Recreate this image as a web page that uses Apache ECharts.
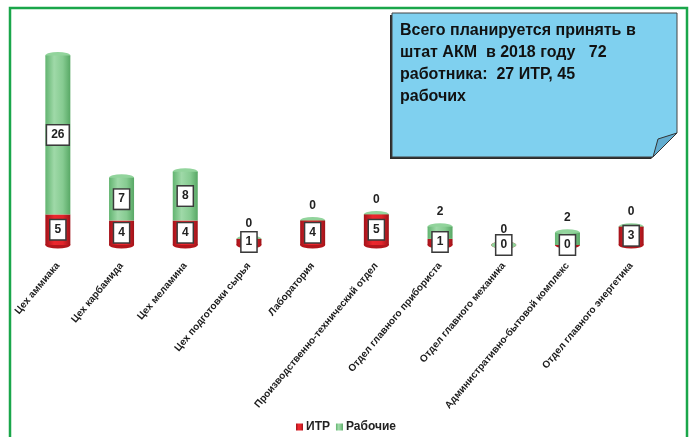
<!DOCTYPE html>
<html>
<head>
<meta charset="utf-8">
<script src="https://cdn.jsdelivr.net/npm/echarts@6/dist/echarts.min.js"></script>
<style>
  html, body { margin: 0; padding: 0; background: #fff; }
  #chart { width: 695px; height: 437px; }
</style>
</head>
<body>
<div id="chart"></div>
<script>
const categories = [
  "Цех аммиака",
  "Цех карбамида",
  "Цех меламина",
  "Цех подготовки сырья",
  "Лаборатория",
  "Производственно-технический отдел",
  "Отдел главного прибориста",
  "Отдел главного механика",
  "Административно-бытовой комплекс",
  "Отдел главного энергетика"
];
const itr = [5, 4, 4, 1, 4, 5, 1, 0, 0, 3];
const workers = [26, 7, 8, 0, 0, 0, 2, 0, 2, 0];
const totals = itr.map((v, i) => v + workers[i]);
const noteLines = [
  "Всего планируется принять в",
  "штат АКМ  в 2018 году   72",
  "работника:  27 ИТР, 45",
  "рабочих"
];

const boxLabel = {
  show: true,
  position: "inside",
  color: "#222",
  fontFamily: "Liberation Sans",
  fontWeight: "bold",
  fontSize: 12,
  backgroundColor: "#fff",
  borderColor: "#3a3a3a",
  borderWidth: 1.5,
  padding: [4, 4, 3, 4]
};
const plainTop = {
  show: true,
  position: "top",
  distance: 9,
  color: "#222",
  fontFamily: "Liberation Sans",
  fontWeight: "bold",
  fontSize: 12,
  backgroundColor: "transparent",
  borderWidth: 0,
  padding: 0
};

const redFill = new echarts.graphic.LinearGradient(0, 0, 1, 0, [
  { offset: 0, color: "#a3121a" },
  { offset: 0.35, color: "#ec272d" },
  { offset: 0.7, color: "#e3242b" },
  { offset: 1, color: "#9e1319" }
]);
const greenFill = new echarts.graphic.LinearGradient(0, 0, 1, 0, [
  { offset: 0, color: "#62b470" },
  { offset: 0.35, color: "#9fd9a8" },
  { offset: 0.7, color: "#86cb91" },
  { offset: 1, color: "#58a865" }
]);

const mChart = echarts.init(document.getElementById("chart"));
mChart.setOption({
  backgroundColor: "#fff",
  animation: false,
  grid: { left: 26, right: 32, top: 31, bottom: 192 },
  legend: {
    left: 291,
    top: 416,
    itemWidth: 7,
    itemHeight: 7,
    itemGap: 6,
    icon: "rect",
    data: ["ИТР", "Рабочие"],
    textStyle: { color: "#222", fontFamily: "Liberation Sans", fontWeight: "bold", fontSize: 12, padding: [0, 0, 0, -2] }
  },
  xAxis: {
    type: "category",
    data: categories,
    axisLine: { show: false },
    axisTick: { show: false },
    axisLabel: {
      interval: 0,
      rotate: 50,
      margin: 19,
      color: "#1a1a1a",
      fontFamily: "Liberation Sans",
      fontWeight: "bold",
      fontSize: 10
    }
  },
  yAxis: { type: "value", min: 0, max: 35, show: false, splitLine: { show: false } },
  series: [
    {
      name: "bottomCap",
      type: "pictorialBar",
      data: totals,
      symbol: "circle",
      symbolSize: [25, 7],
      symbolOffset: [0, "50%"],
      itemStyle: { color: "#b3161c" },
      z: 1,
      silent: true
    },
    {
      name: "ИТР",
      type: "bar",
      stack: "a",
      barWidth: 25,
      data: itr,
      itemStyle: { color: redFill },
      label: boxLabel,
      z: 2
    },
    {
      name: "Рабочие",
      type: "bar",
      stack: "a",
      barWidth: 25,
      data: workers.map(v => ({ value: v, label: v >= 5 ? boxLabel : plainTop })),
      itemStyle: { color: greenFill },
      z: 2
    },
    {
      name: "topCap",
      type: "pictorialBar",
      data: totals,
      symbol: "circle",
      symbolSize: [25, 7],
      symbolPosition: "end",
      symbolOffset: [0, "-50%"],
      itemStyle: { color: "#92d49c" },
      z: 2,
      silent: true
    }
  ],
  graphic: [
    {
      type: "rect",
      shape: { x: 10, y: 8, width: 677, height: 450 },
      style: { fill: "none", stroke: "#1aa64a", lineWidth: 2.5 },
      z: 0
    },
    {
      type: "polygon",
      shape: { points: [[390, 15], [675, 15], [675, 135], [651, 159], [390, 159]] },
      style: { fill: "#2a2a2a" },
      z: 10
    },
    {
      type: "polygon",
      shape: { points: [[392, 13], [677, 13], [677, 133], [653, 157], [392, 157]] },
      style: { fill: "#7fd0ef", stroke: "#444", lineWidth: 1 },
      z: 11
    },
    {
      type: "polygon",
      shape: { points: [[653, 157], [677, 133], [658, 139]] },
      style: { fill: "#62add0", stroke: "#333", lineWidth: 1 },
      z: 12
    },
    {
      type: "text",
      left: 400,
      top: 20,
      style: {
        text: noteLines.join("\n"),
        fill: "#111",
        font: "bold 16px 'Liberation Sans'",
        lineHeight: 22
      },
      z: 13
    }
  ]
});
</script>
</body>
</html>
